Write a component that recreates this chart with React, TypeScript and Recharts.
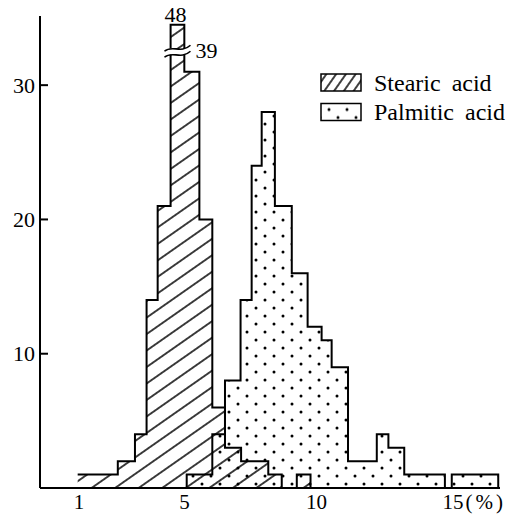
import { AreaChart, Area, XAxis, YAxis, Legend, ReferenceDot } from "recharts";

// histogram bins: edges in %, counts per bin
const stearicEdges = [0.95, 2.47, 3.12, 3.56, 3.98, 4.47, 4.99, 5.56, 6.05, 6.53, 7.14, 8.17, 8.68, 9.25, 9.77];
const stearicCounts = [1, 2, 4, 14, 21, 48, 31, 20, 6, 3, 2, 1, 0, 1];

const palmiticEdges = [5.08, 6.05, 6.53, 7.12, 7.54, 7.92, 8.42, 9.06, 9.66, 10.19, 10.57, 11.19, 12.28, 12.72, 13.32, 14.86, 15.12, 16.88];
const palmiticCounts = [1, 4, 8, 14, 24, 28, 21, 16, 12, 11, 9, 2, 4, 3, 1, 0, 1];

const xTicks = [1, 5, 10, 15];
const yTicks = [10, 20, 30];
const legendNames = ["Stearic acid", "Palmitic acid"];

// broken axis for the tallest bar
const peakLabel = "48";
const breakLabel = "39";
const yMax = 35.15;
const capAt = 34.5;
const breakAt = 32.6;

const FONT = "'Liberation Serif', 'Times New Roman', serif";

const valueAt = (edges: number[], counts: number[], x: number) => {
  for (let i = 0; i < counts.length; i++) {
    if (x >= edges[i] - 1e-9 && x < edges[i + 1] - 1e-9) return Math.min(counts[i], capAt);
  }
  return 0;
};

const xs = Array.from(new Set([...stearicEdges, ...palmiticEdges])).sort((a, b) => a - b);
const data = xs.map((x) => ({
  x,
  stearic: valueAt(stearicEdges, stearicCounts, x),
  palmitic: valueAt(palmiticEdges, palmiticCounts, x),
}));

const peakIdx = stearicCounts.indexOf(Math.max(...stearicCounts));
const peakX = (stearicEdges[peakIdx] + stearicEdges[peakIdx + 1]) / 2;

function YTick({ x, y, payload }: any) {
  const axisX = x + 5;
  return (
    <g>
      <line x1={axisX} x2={axisX + 8} y1={y} y2={y} stroke="#000" strokeWidth={2} />
      <text x={x} y={y} dy={7.5} textAnchor="end" fontSize={22} fontFamily={FONT} fill="#000">
        {payload.value}
      </text>
    </g>
  );
}

function XTick({ x, y, payload }: any) {
  if (payload.value === 15) {
    return (
      <text x={x - 6} y={y} dy={17} textAnchor="start" fontSize={21} fontFamily={FONT} fill="#000">
        <tspan>15</tspan>
        <tspan dx={2} letterSpacing={3}>(%)</tspan>
      </text>
    );
  }
  return (
    <text x={x} y={y} dy={17} textAnchor="middle" fontSize={21} fontFamily={FONT} fill="#000">
      {payload.value}
    </text>
  );
}

function PeakText({ cx, cy }: any) {
  return (
    <text x={cx - 2} y={cy - 3} textAnchor="middle" fontSize={22} fontFamily={FONT} fill="#000">
      {peakLabel}
    </text>
  );
}

function BreakMark({ cx, cy }: any) {
  const x0 = cx - 13;
  const x1 = cx + 13;
  const upper = `M ${x0} ${cy + 1} C ${cx - 5} ${cy - 6}, ${cx + 3} ${cy + 4}, ${x1} ${cy - 5}`;
  const lower = `M ${x0} ${cy + 7} C ${cx - 5} ${cy}, ${cx + 3} ${cy + 10}, ${x1} ${cy + 1}`;
  const fillPath = `${upper} L ${x1} ${cy + 1} C ${cx + 3} ${cy + 10}, ${cx - 5} ${cy}, ${x0} ${cy + 7} Z`;
  return (
    <g>
      <path d={fillPath} fill="#fff" stroke="none" />
      <path d={upper} fill="none" stroke="#000" strokeWidth={1.6} />
      <path d={lower} fill="none" stroke="#000" strokeWidth={1.6} />
      <text x={cx + 18} y={cy + 8} fontSize={22} fontFamily={FONT} fill="#000">
        {breakLabel}
      </text>
    </g>
  );
}

function LegendBox({ payload }: any) {
  const items = legendNames
    .map((n) => (payload || []).find((p: any) => p.value === n))
    .filter(Boolean);
  return (
    <svg width={198} height={60} style={{ display: "block" }}>
      {items.map((item: any, i: number) => (
        <g key={item.value} transform={`translate(0, ${i * 29.5})`}>
          <rect
            x={5}
            y={6}
            width={40}
            height={17}
            fill={item.dataKey === "stearic" ? "url(#hatchLegend)" : "url(#dots)"}
            stroke="#000"
            strokeWidth={1.5}
          />
          <text x={58} y={22.7} fontSize={24} fontFamily={FONT} fill="#000" wordSpacing={5}>
            {item.value}
          </text>
        </g>
      ))}
    </svg>
  );
}

export default function App() {
  return (
    <div style={{ width: 514, height: 519, background: "#fff", position: "relative" }}>
      <style>{`body{margin:0;overflow:hidden;background:#fff}`}</style>
      <AreaChart width={514} height={519} data={data} margin={{ top: 16, right: 14, left: 0, bottom: 0 }}>
        <defs>
          <pattern id="hatch" patternUnits="userSpaceOnUse" width={14} height={13.5} patternTransform="rotate(-35)">
            <line x1={-1} y1={6.75} x2={15} y2={6.75} stroke="#000" strokeWidth={1.5} />
          </pattern>
          <pattern id="hatchLegend" patternUnits="userSpaceOnUse" width={8} height={8} patternTransform="rotate(-55)">
            <line x1={-1} y1={4} x2={9} y2={4} stroke="#000" strokeWidth={1.5} />
          </pattern>
          <pattern id="dots" patternUnits="userSpaceOnUse" width={18} height={16}>
            <circle cx={4} cy={4} r={1.5} fill="#000" />
            <circle cx={13} cy={12} r={1.5} fill="#000" />
          </pattern>
        </defs>
        <XAxis
          type="number"
          dataKey="x"
          domain={[-0.477, 16.947]}
          allowDataOverflow
          ticks={xTicks}
          interval={0}
          height={31}
          tickSize={0}
          tickMargin={4}
          tickLine={false}
          axisLine={{ stroke: "#000", strokeWidth: 2 }}
          tick={(p: any) => <XTick {...p} />}
        />
        <YAxis
          type="number"
          domain={[0, yMax]}
          allowDataOverflow
          ticks={yTicks}
          interval={0}
          width={40}
          tickSize={0}
          tickMargin={5}
          tickLine={false}
          axisLine={{ stroke: "#000", strokeWidth: 2 }}
          tick={(p: any) => <YTick {...p} />}
        />
        <Area
          type="stepAfter"
          dataKey="palmitic"
          name="Palmitic acid"
          stroke="#000"
          strokeWidth={2}
          fill="url(#dots)"
          fillOpacity={1}
          dot={false}
          activeDot={false}
          isAnimationActive={false}
        />
        <Area
          type="stepAfter"
          dataKey="stearic"
          name="Stearic acid"
          stroke="#000"
          strokeWidth={2}
          fill="url(#hatch)"
          fillOpacity={1}
          dot={false}
          activeDot={false}
          isAnimationActive={false}
        />
        <ReferenceDot x={peakX} y={capAt} r={0} shape={(p: any) => <PeakText {...p} />} />
        <ReferenceDot x={peakX} y={breakAt} r={0} shape={(p: any) => <BreakMark {...p} />} />
        <Legend
          layout="vertical"
          align="center"
          verticalAlign="middle"
          wrapperStyle={{ position: "absolute", top: 68, left: 316, width: 198, height: 60 }}
          content={(p: any) => <LegendBox {...p} />}
        />
      </AreaChart>
    </div>
  );
}
